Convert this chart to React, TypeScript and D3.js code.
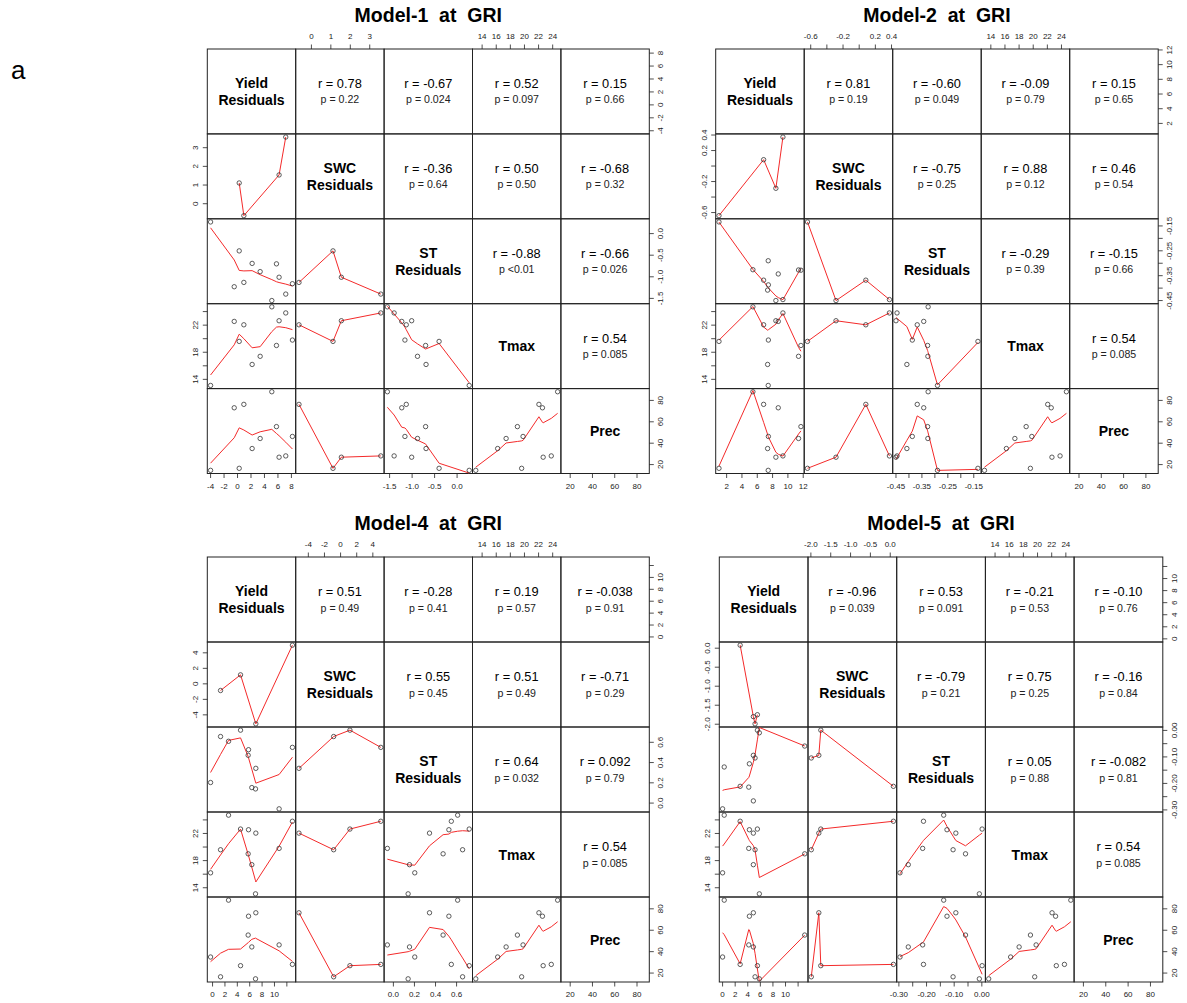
import React from "react";
import * as d3 from "d3";

const FONT = "'Liberation Sans', Arial, Helvetica, sans-serif";

// diagonal labels
const varNames = [["Yield", "Residuals"], ["SWC", "Residuals"], ["ST", "Residuals"], ["Tmax"], ["Prec"]];

// 11 observations, same order in every model
const tmax = [13.1, 22.55, 19.6, 22.05, 16.2, 17.4, 24.7, 19.0, 22.65, 23.8, 19.8];
const prec = [14.6, 73.1, 16.5, 76.3, 35.0, 44.4, 88.1, 55.5, 26.9, 28.1, 46.3];

// Model-1
const yield1 = [-4.0, -0.49, 0.25, 0.94, 2.17, 3.36, 5.09, 5.78, 6.17, 7.16, 8.15];
const swc1 = [null, null, 1.11, -0.64, null, null, null, null, 1.54, 3.57, null];
const st1 = [0.27, -1.23, -0.4, -1.13, -0.69, -0.88, -1.55, -0.7, -1.01, -1.4, -1.16];
const r1 = ["0.78", "-0.67", "0.52", "0.15", "-0.36", "0.50", "-0.68", "-0.88", "-0.66", "0.54"];
const p1 = ["0.22", "0.024", "0.097", "0.66", "0.64", "0.50", "0.32", "<0.01", "0.026", "0.085"];

// Model-2
const yield2 = [7.43, 8.74, 1.0, 6.83, 7.35, 11.39, 5.43, 11.7, 8.43, 9.35, 7.45];
const swc2 = [null, null, -0.64, 0.082, null, null, null, null, -0.287, 0.374, null];
const st2 = [-0.29, -0.343, -0.134, -0.368, -0.408, -0.327, -0.326, -0.328, -0.45, -0.446, -0.387];
const r2 = ["0.81", "-0.60", "-0.09", "0.15", "-0.75", "0.88", "0.46", "-0.29", "-0.15", "0.54"];
const p2 = ["0.19", "0.049", "0.79", "0.65", "0.25", "0.12", "0.54", "0.39", "0.66", "0.085"];

// Model-4
const yield4 = [6.94, 5.81, 1.29, 6.99, -0.32, 6.34, 2.58, 5.75, 4.52, 12.9, 10.75];
const swc4 = [null, null, -0.86, -5.16, null, null, null, null, 1.16, 4.99, null];
const st4 = [0.14, 0.527, 0.657, 0.343, 0.203, 0.153, 0.61, 0.472, 0.72, 0.55, -0.057];
const r4 = ["0.51", "-0.28", "0.19", "-0.038", "0.55", "0.51", "-0.71", "0.64", "0.092", "0.54"];
const p4 = ["0.49", "0.41", "0.57", "0.91", "0.45", "0.49", "0.29", "0.032", "0.79", "0.085"];

// Model-5
const yield5 = [5.84, 4.26, 5.16, 4.89, 0.0, 4.89, 0.26, 13.05, 5.53, 2.79, 4.16];
const swc5 = [null, null, -1.99, -1.8, null, null, null, null, -1.75, 0.08, null];
const st5 = [-0.009, -0.126, -0.104, -0.094, -0.296, -0.266, -0.138, -0.059, 0.001, -0.211, -0.214];
const r5 = ["-0.96", "0.53", "-0.21", "-0.10", "-0.79", "0.75", "-0.16", "0.05", "-0.082", "0.54"];
const p5 = ["0.039", "0.091", "0.53", "0.76", "0.21", "0.25", "0.84", "0.88", "0.81", "0.085"];

// axis ticks
const tmaxTicks = [14, 16, 18, 20, 22, 24];
const tmaxRowLabels = [14, 18, 22];
const precTicks = [20, 40, 60, 80];
const yieldTicks1 = [-4, -2, 0, 2, 4, 6, 8];
const swcTicks1 = [0, 1, 2, 3];
const stTicks1 = [-1.5, -1.0, -0.5, 0];
const yieldTicks2 = [2, 4, 6, 8, 10, 12];
const swcTicks2 = [-0.6, -0.4, -0.2, 0, 0.2, 0.4];
const swcLabels2 = [-0.6, -0.2, 0.2, 0.4];
const stTicks2 = [-0.45, -0.4, -0.35, -0.3, -0.25, -0.2, -0.15];
const stLabels2 = [-0.45, -0.35, -0.25, -0.15];
const yieldTicks45 = [0, 2, 4, 6, 8, 10, 12];
const yieldLabels45 = [0, 2, 4, 6, 8, 10];
const swcTicks4 = [-4, -2, 0, 2, 4];
const stTicks4 = [0, 0.2, 0.4, 0.6];
const swcTicks5 = [-2, -1.5, -1, -0.5, 0];
const stTicks5 = [-0.3, -0.25, -0.2, -0.15, -0.1, -0.05, 0];
const stLabels5 = [-0.3, -0.2, -0.1, 0];

type Num = number | null;
interface Model {
  title: string;
  x0: number;
  y0: number;
  cw: number;
  ch: number;
  vars: Num[][];
  ticks: number[][];
  colLabels: number[][];
  rowLabels: number[][];
  dec: number[];
  r: string[];
  p: string[];
}

const models: Model[] = [
  {
    title: "Model-1  at  GRI", x0: 207.3, y0: 49, cw: 88.4, ch: 84.9,
    vars: [yield1, swc1, st1, tmax, prec],
    ticks: [yieldTicks1, swcTicks1, stTicks1, tmaxTicks, precTicks],
    colLabels: [yieldTicks1, swcTicks1, stTicks1, tmaxTicks, precTicks],
    rowLabels: [yieldTicks1, swcTicks1, stTicks1, tmaxRowLabels, precTicks],
    dec: [0, 0, 1, 0, 0], r: r1, p: p1,
  },
  {
    title: "Model-2  at  GRI", x0: 715.7, y0: 49, cw: 88.5, ch: 84.9,
    vars: [yield2, swc2, st2, tmax, prec],
    ticks: [yieldTicks2, swcTicks2, stTicks2, tmaxTicks, precTicks],
    colLabels: [yieldTicks2, swcLabels2, stLabels2, tmaxTicks, precTicks],
    rowLabels: [yieldTicks2, swcLabels2, stLabels2, tmaxRowLabels, precTicks],
    dec: [0, 1, 2, 0, 0], r: r2, p: p2,
  },
  {
    title: "Model-4  at  GRI", x0: 207.3, y0: 557, cw: 88.4, ch: 85,
    vars: [yield4, swc4, st4, tmax, prec],
    ticks: [yieldTicks45, swcTicks4, stTicks4, tmaxTicks, precTicks],
    colLabels: [yieldLabels45, swcTicks4, stTicks4, tmaxTicks, precTicks],
    rowLabels: [yieldLabels45, swcTicks4, stTicks4, tmaxRowLabels, precTicks],
    dec: [0, 0, 1, 0, 0], r: r4, p: p4,
  },
  {
    title: "Model-5  at  GRI", x0: 719.3, y0: 557, cw: 88.7, ch: 85,
    vars: [yield5, swc5, st5, tmax, prec],
    ticks: [yieldTicks45, swcTicks5, stTicks5, tmaxTicks, precTicks],
    colLabels: [yieldLabels45, swcTicks5, stLabels5, tmaxTicks, precTicks],
    rowLabels: [yieldLabels45, swcTicks5, stLabels5, tmaxRowLabels, precTicks],
    dec: [0, 1, 2, 0, 0], r: r5, p: p5,
  },
];

// R's lowess (clowess), as used by panel.smooth
function lowess(xIn: number[], yIn: number[], f = 2 / 3, nsteps = 3): [number, number][] {
  const n = xIn.length;
  const ord = d3.range(n).sort((a, b) => xIn[a] - xIn[b]);
  const x = [0, ...ord.map((k) => xIn[k])];
  const y = [0, ...ord.map((k) => yIn[k])];
  if (n < 2) return [[x[1], y[1]]];
  const ys = new Array(n + 1).fill(0);
  const rw = new Array(n + 1).fill(0);
  const w = new Array(n + 1).fill(0);
  const res = new Array(n + 1).fill(0);
  const delta = 0.01 * (x[n] - x[1]);
  const ns = Math.max(2, Math.min(n, Math.floor(f * n + 1e-7)));

  const lowest = (xs: number, nleft: number, nright: number, userw: boolean): number | null => {
    const range = x[n] - x[1];
    const h = Math.max(xs - x[nleft], x[nright] - xs);
    const h9 = 0.999 * h;
    const h1 = 0.001 * h;
    let a = 0;
    let j = nleft;
    while (j <= n) {
      w[j] = 0;
      const r = Math.abs(x[j] - xs);
      if (r <= h9) {
        w[j] = r <= h1 ? 1 : Math.pow(1 - Math.pow(r / h, 3), 3);
        if (userw) w[j] *= rw[j];
        a += w[j];
      } else if (x[j] > xs) break;
      j++;
    }
    const nrt = j - 1;
    if (a <= 0) return null;
    for (j = nleft; j <= nrt; j++) w[j] /= a;
    if (h > 0) {
      a = 0;
      for (j = nleft; j <= nrt; j++) a += w[j] * x[j];
      let b = xs - a;
      let c = 0;
      for (j = nleft; j <= nrt; j++) c += w[j] * (x[j] - a) * (x[j] - a);
      if (Math.sqrt(c) > 0.001 * range) {
        b /= c;
        for (j = nleft; j <= nrt; j++) w[j] *= b * (x[j] - a) + 1;
      }
    }
    let out = 0;
    for (j = nleft; j <= nrt; j++) out += w[j] * y[j];
    return out;
  };

  let iter = 1;
  while (iter <= nsteps + 1) {
    let nleft = 1;
    let nright = ns;
    let last = 0;
    let i = 1;
    for (;;) {
      if (nright < n) {
        const d1 = x[i] - x[nleft];
        const d2 = x[nright + 1] - x[i];
        if (d1 > d2) {
          nleft++;
          nright++;
          continue;
        }
      }
      const fit = lowest(x[i], nleft, nright, iter > 1);
      ys[i] = fit === null ? y[i] : fit;
      if (last < i - 1) {
        const denom = x[i] - x[last];
        for (let j = last + 1; j < i; j++) {
          const alpha = (x[j] - x[last]) / denom;
          ys[j] = alpha * ys[i] + (1 - alpha) * ys[last];
        }
      }
      last = i;
      const cut = x[last] + delta;
      for (i = last + 1; i <= n; i++) {
        if (x[i] > cut) break;
        if (x[i] === x[last]) {
          ys[i] = ys[last];
          last = i;
        }
      }
      i = Math.max(last + 1, i - 1);
      if (last >= n) break;
    }
    for (let k = 1; k <= n; k++) res[k] = y[k] - ys[k];
    let sc = 0;
    for (let k = 1; k <= n; k++) sc += Math.abs(res[k]);
    sc /= n;
    if (iter > nsteps) break;
    const ar = res.slice(1).map(Math.abs).sort((a, b) => a - b);
    const m1 = Math.floor(n / 2);
    const cmad = n % 2 === 0 ? 3 * (ar[m1] + ar[n - m1 - 1]) : 6 * ar[m1];
    if (cmad < 1e-7 * sc) break;
    const c9 = 0.999 * cmad;
    const c1 = 0.001 * cmad;
    for (let k = 1; k <= n; k++) {
      const r = Math.abs(res[k]);
      rw[k] = r <= c1 ? 1 : r <= c9 ? Math.pow(1 - (r / cmad) * (r / cmad), 2) : 0;
    }
    iter++;
  }
  return x.slice(1).map((xv, k) => [xv, ys[k + 1]] as [number, number]);
}

const upperPairs: [number, number][] = [];
for (let i = 0; i < 5; i++) for (let j = i + 1; j < 5; j++) upperPairs.push([i, j]);

function Panel({ m }: { m: Model }) {
  const { x0, y0, cw, ch } = m;
  const padded = (v: Num[]) => {
    const e = d3.extent(v.filter((d) => d != null) as number[]) as [number, number];
    const pad = (e[1] - e[0]) * 0.04;
    return [e[0] - pad, e[1] + pad];
  };
  const sx = m.vars.map((v, j) => d3.scaleLinear().domain(padded(v)).range([x0 + j * cw, x0 + (j + 1) * cw]));
  const sy = m.vars.map((v, i) => d3.scaleLinear().domain(padded(v)).range([y0 + (i + 1) * ch, y0 + i * ch]));
  const gridR = x0 + 5 * cw;
  const gridB = y0 + 5 * ch;
  const tickLen = 4.5;
  const lab = 11.5;

  const cells: React.ReactNode[] = [];
  for (let i = 0; i < 5; i++) {
    for (let j = 0; j < 5; j++) {
      const cx = x0 + j * cw;
      const cy = y0 + i * ch;
      const mx = cx + cw / 2;
      const my = cy + ch / 2;
      const key = `${i}-${j}`;
      cells.push(
        <rect key={`b${key}`} x={cx} y={cy} width={cw} height={ch} fill="none" stroke="#222" strokeWidth={1} />
      );
      if (i === j) {
        const nm = varNames[i];
        cells.push(
          <g key={`d${key}`} fontFamily={FONT} fontWeight="bold" fontSize={14} textAnchor="middle">
            {nm.map((t, k) => (
              <text key={k} x={mx} y={my + (nm.length === 1 ? 0 : k === 0 ? -8.5 : 8.5)} dominantBaseline="central">
                {t}
              </text>
            ))}
          </g>
        );
      } else if (j > i) {
        const k = upperPairs.findIndex((p) => p[0] === i && p[1] === j);
        const pv = m.p[k];
        cells.push(
          <g key={`u${key}`} fontFamily={FONT} textAnchor="middle">
            <text x={mx} y={my - 8} fontSize={12.8} dominantBaseline="central" fill="#000">
              {`r = ${m.r[k]}`}
            </text>
            <text x={mx} y={my + 8} fontSize={10.6} dominantBaseline="central" fill="#222">
              {pv.startsWith("<") ? `p ${pv}` : `p = ${pv}`}
            </text>
          </g>
        );
      } else {
        const xs: number[] = [];
        const ys: number[] = [];
        m.vars[j].forEach((xv, k) => {
          const yv = m.vars[i][k];
          if (xv != null && yv != null) {
            xs.push(xv);
            ys.push(yv);
          }
        });
        const fit = lowess(xs, ys);
        const path = d3
          .line<[number, number]>()
          .x((d) => sx[j](d[0]))
          .y((d) => sy[i](d[1]))(fit);
        cells.push(
          <g key={`l${key}`}>
            <path d={path || ""} fill="none" stroke="#f42a2a" strokeWidth={1} />
            {xs.map((xv, k) => (
              <circle key={k} cx={sx[j](xv)} cy={sy[i](ys[k])} r={2.2} fill="none" stroke="#333" strokeWidth={0.8} />
            ))}
          </g>
        );
      }
    }
  }

  const axes: React.ReactNode[] = [];
  for (let j = 0; j < 5; j++) {
    const bottom = j % 2 === 0;
    const ey = bottom ? gridB : y0;
    const dir = bottom ? 1 : -1;
    axes.push(
      <g key={`cx${j}`} fontFamily={FONT} fontSize={8} fill="#222" textAnchor="middle">
        {m.ticks[j].map((t) => (
          <line key={t} x1={sx[j](t)} x2={sx[j](t)} y1={ey} y2={ey + dir * tickLen} stroke="#222" strokeWidth={0.8} />
        ))}
        {m.colLabels[j].map((t) => (
          <text key={`t${t}`} x={sx[j](t)} y={ey + dir * 12.5} dominantBaseline="central">
            {t.toFixed(m.dec[j])}
          </text>
        ))}
      </g>
    );
  }
  for (let i = 0; i < 5; i++) {
    const right = i % 2 === 0;
    const ex = right ? gridR : x0;
    const dir = right ? 1 : -1;
    axes.push(
      <g key={`ry${i}`} fontFamily={FONT} fontSize={8} fill="#222" textAnchor="middle">
        {m.ticks[i].map((t) => (
          <line key={t} x1={ex} x2={ex + dir * tickLen} y1={sy[i](t)} y2={sy[i](t)} stroke="#222" strokeWidth={0.8} />
        ))}
        {m.rowLabels[i].map((t) => {
          const tx = ex + dir * lab;
          const ty = sy[i](t);
          return (
            <text key={`t${t}`} x={tx} y={ty} dominantBaseline="central" transform={`rotate(-90 ${tx} ${ty})`}>
              {t.toFixed(m.dec[i])}
            </text>
          );
        })}
      </g>
    );
  }

  return (
    <g>
      <text
        x={x0 + 2.5 * cw}
        y={y0 - 27}
        textAnchor="middle"
        fontFamily={FONT}
        fontWeight="bold"
        fontSize={19.5}
        style={{ whiteSpace: "pre" }}
      >
        {m.title}
      </text>
      {cells}
      {axes}
    </g>
  );
}

export default function App() {
  return (
    <svg
      width={1187}
      height={1003}
      style={{ position: "absolute", left: 0, top: 0, background: "#fff" }}
    >
      <rect x={0} y={0} width={1187} height={1003} fill="#fff" />
      <text x={11} y={79} fontFamily={FONT} fontSize={26}>
        a
      </text>
      {models.map((m) => (
        <Panel key={m.title} m={m} />
      ))}
    </svg>
  );
}
